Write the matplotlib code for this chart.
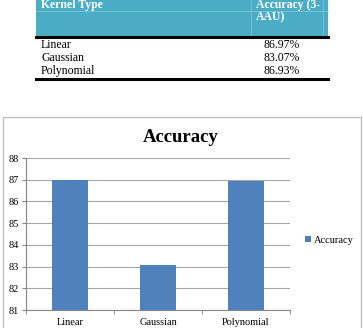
import matplotlib.pyplot as plt
from matplotlib.patches import Rectangle

kernels = ['Linear', 'Gaussian', 'Polynomial']
accuracy = [86.97, 83.07, 86.93]
yticks = [81, 82, 83, 84, 85, 86, 87, 88]

plt.rcParams['font.family'] = ['Liberation Serif', 'DejaVu Serif']

fig = plt.figure(figsize=(3.63, 3.28), dpi=100)
W, H = 363, 328

# background layer in pixel coordinates for the table and the chart frame
bg = fig.add_axes([0, 0, 1, 1])
bg.set_xlim(0, W)
bg.set_ylim(H, 0)
bg.axis('off')

# table header
bg.add_patch(Rectangle((36, 0), 292, 36, facecolor='#4BACC6', edgecolor='none'))
bg.plot([36, 328], [10.5, 10.5], color='#7FC4D8', lw=0.6)
bg.plot([251, 251], [0, 36], color='#7FC4D8', lw=0.6)
bg.plot([323, 323], [0, 36], color='#7FC4D8', lw=0.6)
bg.text(41, 5, 'Kernel Type', color='white', fontsize=8.5, fontweight='bold', va='center')
bg.text(256, 5, 'Accuracy (3-', color='white', fontsize=8.5, fontweight='bold', va='center')
bg.text(256, 17, 'AAU)', color='white', fontsize=8.5, fontweight='bold', va='center')
bg.plot([36, 328], [36.5, 36.5], color='black', lw=2.2)
for i, (k, a) in enumerate(zip(kernels, accuracy)):
    y = 45 + i * 13
    bg.text(41, y, k, fontsize=8.5, va='center')
    bg.text(263, y, f'{a:.2f}%', fontsize=8.5, va='center')
bg.plot([36, 328], [78.5, 78.5], color='black', lw=2.2)

# chart frame
bg.add_patch(Rectangle((3, 116.5), 358, 230, facecolor='white', edgecolor='#BFBFBF', lw=1))
bg.text(181, 137, 'Accuracy', fontsize=13.5, fontweight='bold', ha='center', va='center')

# chart
ax = fig.add_axes([26 / W, 1 - 310 / H, (290 - 26) / W, (310 - 158) / H])
x = list(range(len(kernels)))
ax.bar(x, accuracy, width=0.4, color='#4F81BD', label='Accuracy', zorder=3)
ax.set_ylim(81, 88)
ax.set_xlim(-0.5, 2.5)
ax.set_yticks(yticks)
ax.grid(axis='y', color='#A6A6A6', lw=0.8, zorder=0)
ax.set_xticks(x)
ax.set_xticklabels(kernels, fontsize=7.5)
ax.set_xticks([-0.5, 0.5, 1.5, 2.5], minor=True)
ax.tick_params(axis='x', which='major', length=0, pad=6)
ax.tick_params(axis='x', which='minor', length=3, color='#868686')
ax.tick_params(axis='y', labelsize=7.5, length=3, color='#868686', pad=2)
for s in ['top', 'right']:
    ax.spines[s].set_visible(False)
for s in ['left', 'bottom']:
    ax.spines[s].set_color('#868686')
ax.legend(loc='center left', bbox_to_anchor=(1.02, 0.46), frameon=False,
          fontsize=7.5, handlelength=0.6, handleheight=0.6, handletextpad=0.3)

fig.savefig('out.png', dpi=100)
